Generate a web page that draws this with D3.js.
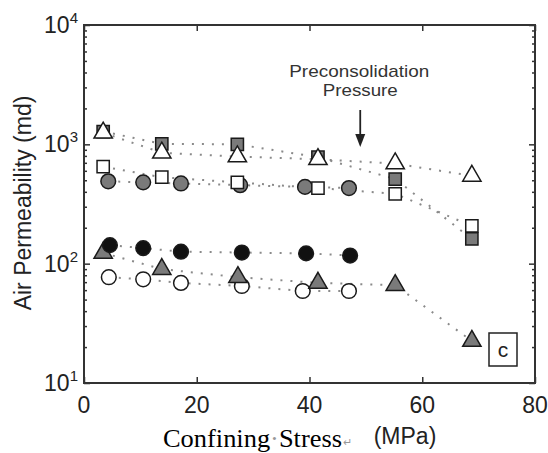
<!doctype html>
<html>
<head>
  <style>
    body { margin: 0; background: #fff; }
    text { font-family: "Liberation Sans", Arial, sans-serif; fill: #222; }
    .dots { fill: none; stroke: #8a8a8a; stroke-width: 2; stroke-dasharray: 2,8; }
    .mark { stroke: #1a1a1a; stroke-width: 1.5; }
  </style>
  <script src="https://d3js.org/d3.v7.min.js"></script>
</head>
<body>
<svg width="548" height="453"></svg>
<script>
  // confining stress (MPa) and air permeability (md), one pair per sample
  var stressOpenTri  = [3.4, 13.8, 27.2, 41.5, 55.2, 68.8];
  var permOpenTri    = [1250, 850, 790, 750, 690, 544];
  var stressGraySq   = [3.4, 13.8, 27.2, 41.5, 55.2, 68.8];
  var permGraySq     = [1280, 1010, 1000, 780, 512, 161];
  var stressOpenSq   = [3.4, 13.8, 27.2, 41.5, 55.2, 68.8];
  var permOpenSq     = [650, 530, 480, 430, 385, 207];
  var stressGrayCirc = [4.3, 10.5, 17.2, 27.7, 39.2, 47.0];
  var permGrayCirc   = [490, 480, 470, 455, 440, 430];
  var stressBlackCirc = [4.6, 10.5, 17.2, 28.0, 39.4, 47.2];
  var permBlackCirc   = [143, 135, 126, 124, 122, 117];
  var stressGrayTri  = [3.4, 13.8, 27.3, 41.5, 55.2, 68.8];
  var permGrayTri    = [123, 90, 77, 69, 66, 22.5];
  var stressOpenCirc = [4.4, 10.5, 17.2, 28.0, 38.8, 47.0];
  var permOpenCirc   = [77, 74, 69, 65, 59, 59];

  var xTicks = [0, 20, 40, 60, 80];
  var yMajor = [10, 100, 1000, 10000];
  var yExp = ["1", "2", "3", "4"];
  var preconsolidation = 49;

  var svg = d3.select("svg");
  var plotL = 84, plotR = 535, plotT = 25, plotB = 383;

  var x = d3.scaleLinear().domain([0, 80]).range([plotL, plotR]);
  var y = d3.scaleLog().domain([10, 10000]).range([plotB, plotT]);

  function pairs(xs, ys) {
    return xs.map(function (v, i) { return [v, ys[i]]; });
  }

  var series = [
    { d: pairs(stressGrayCirc, permGrayCirc), type: d3.symbolCircle, size: 170, fill: "#7a7a7a" },
    { d: pairs(stressOpenSq, permOpenSq), type: d3.symbolSquare, size: 150, fill: "#fff" },
    { d: pairs(stressGraySq, permGraySq), type: d3.symbolSquare, size: 150, fill: "#7a7a7a" },
    { d: pairs(stressOpenTri, permOpenTri), type: d3.symbolTriangle, size: 145, fill: "#fff" },
    { d: pairs(stressOpenCirc, permOpenCirc), type: d3.symbolCircle, size: 170, fill: "#fff" },
    { d: pairs(stressGrayTri, permGrayTri), type: d3.symbolTriangle, size: 145, fill: "#7a7a7a" },
    { d: pairs(stressBlackCirc, permBlackCirc), type: d3.symbolCircle, size: 170, fill: "#111" }
  ];

  // axes, ticks pointing inward on all sides
  svg.append("g")
    .attr("transform", "translate(0," + plotB + ")")
    .call(d3.axisBottom(x).tickValues(xTicks).tickSize(-6).tickSizeOuter(0).tickFormat(""));
  svg.append("g")
    .attr("transform", "translate(0," + plotT + ")")
    .call(d3.axisTop(x).tickValues(xTicks).tickSize(-6).tickSizeOuter(0).tickFormat(""));

  var yMinor = y.ticks().filter(function (v) { return yMajor.indexOf(v) < 0; });
  [[d3.axisLeft, plotL], [d3.axisRight, plotR]].forEach(function (a) {
    svg.append("g")
      .attr("transform", "translate(" + a[1] + ",0)")
      .call(a[0](y).tickValues(yMajor).tickSize(-6).tickSizeOuter(0).tickFormat(""));
    svg.append("g")
      .attr("transform", "translate(" + a[1] + ",0)")
      .call(a[0](y).tickValues(yMinor).tickSize(-3).tickSizeOuter(0).tickFormat(""));
  });
  svg.selectAll(".domain").remove();
  svg.selectAll(".tick line").attr("stroke", "#333").attr("stroke-width", 1.5);

  svg.append("rect")
    .attr("x", plotL).attr("y", plotT)
    .attr("width", plotR - plotL).attr("height", plotB - plotT)
    .attr("fill", "none").attr("stroke", "#333").attr("stroke-width", 2);

  // tick labels
  svg.selectAll(".xlab").data(xTicks).enter().append("text")
    .attr("x", function (d) { return x(d); })
    .attr("y", 413)
    .attr("text-anchor", "middle")
    .style("font-size", "23px")
    .text(function (d) { return d; });

  var yl = svg.selectAll(".ylab").data(yMajor).enter().append("text")
    .attr("x", 78)
    .attr("y", function (d) { return y(d) + 8; })
    .attr("text-anchor", "end")
    .style("font-size", "23px");
  yl.append("tspan").text("10");
  yl.append("tspan").attr("dy", -10).style("font-size", "15px")
    .text(function (d, i) { return yExp[i]; });

  // axis titles
  svg.append("text")
    .attr("transform", "translate(31,203) rotate(-90)")
    .attr("text-anchor", "middle")
    .style("font-size", "23px")
    .text("Air Permeability (md)");

  var xt = svg.append("text")
    .attr("x", 163).attr("y", 447)
    .attr("textLength", 179).attr("lengthAdjust", "spacingAndGlyphs")
    .style("font-family", "'Liberation Serif', 'Times New Roman', serif")
    .style("font-size", "25px")
    .style("fill", "#000");
  xt.append("tspan").text("Confining");
  xt.append("tspan").style("fill", "#999").text("·");
  xt.append("tspan").text("Stress");
  svg.append("text")
    .attr("x", 343).attr("y", 446)
    .style("font-size", "11px").style("fill", "#999")
    .text("↵");

  svg.append("text")
    .attr("x", 405).attr("y", 444)
    .attr("text-anchor", "middle")
    .style("font-size", "23px")
    .text("(MPa)");

  // dotted connecting lines
  var line = d3.line()
    .x(function (d) { return x(d[0]); })
    .y(function (d) { return y(d[1]); });

  svg.selectAll(".dots").data(series).enter().append("path")
    .attr("class", "dots")
    .attr("d", function (s) { return line(s.d); });

  // markers
  series.forEach(function (s) {
    svg.selectAll(null).data(s.d).enter().append("path")
      .attr("class", "mark")
      .attr("transform", function (d) { return "translate(" + x(d[0]) + "," + y(d[1]) + ")"; })
      .attr("d", d3.symbol().type(s.type).size(s.size))
      .attr("fill", s.fill);
  });

  // preconsolidation annotation
  var ax = x(preconsolidation);
  svg.append("text")
    .attr("x", ax - 1).attr("y", 77)
    .attr("text-anchor", "middle")
    .attr("textLength", 140).attr("lengthAdjust", "spacingAndGlyphs")
    .style("font-size", "17px").style("fill", "#333")
    .text("Preconsolidation");
  svg.append("text")
    .attr("x", ax).attr("y", 96)
    .attr("text-anchor", "middle")
    .attr("textLength", 75).attr("lengthAdjust", "spacingAndGlyphs")
    .style("font-size", "17px").style("fill", "#333")
    .text("Pressure");
  svg.append("line")
    .attr("x1", ax).attr("x2", ax)
    .attr("y1", 110).attr("y2", 138)
    .attr("stroke", "#222").attr("stroke-width", 1.8);
  svg.append("path")
    .attr("d", "M" + (ax - 5) + ",134L" + (ax + 5) + ",134L" + ax + ",147Z")
    .attr("fill", "#222");

  // panel letter
  svg.append("rect")
    .attr("x", 489).attr("y", 333).attr("width", 28).attr("height", 33)
    .attr("fill", "#fff").attr("stroke", "#222").attr("stroke-width", 1.5);
  svg.append("text")
    .attr("x", 503).attr("y", 357)
    .attr("text-anchor", "middle")
    .style("font-size", "21px")
    .text("c");
</script>
</body>
</html>
